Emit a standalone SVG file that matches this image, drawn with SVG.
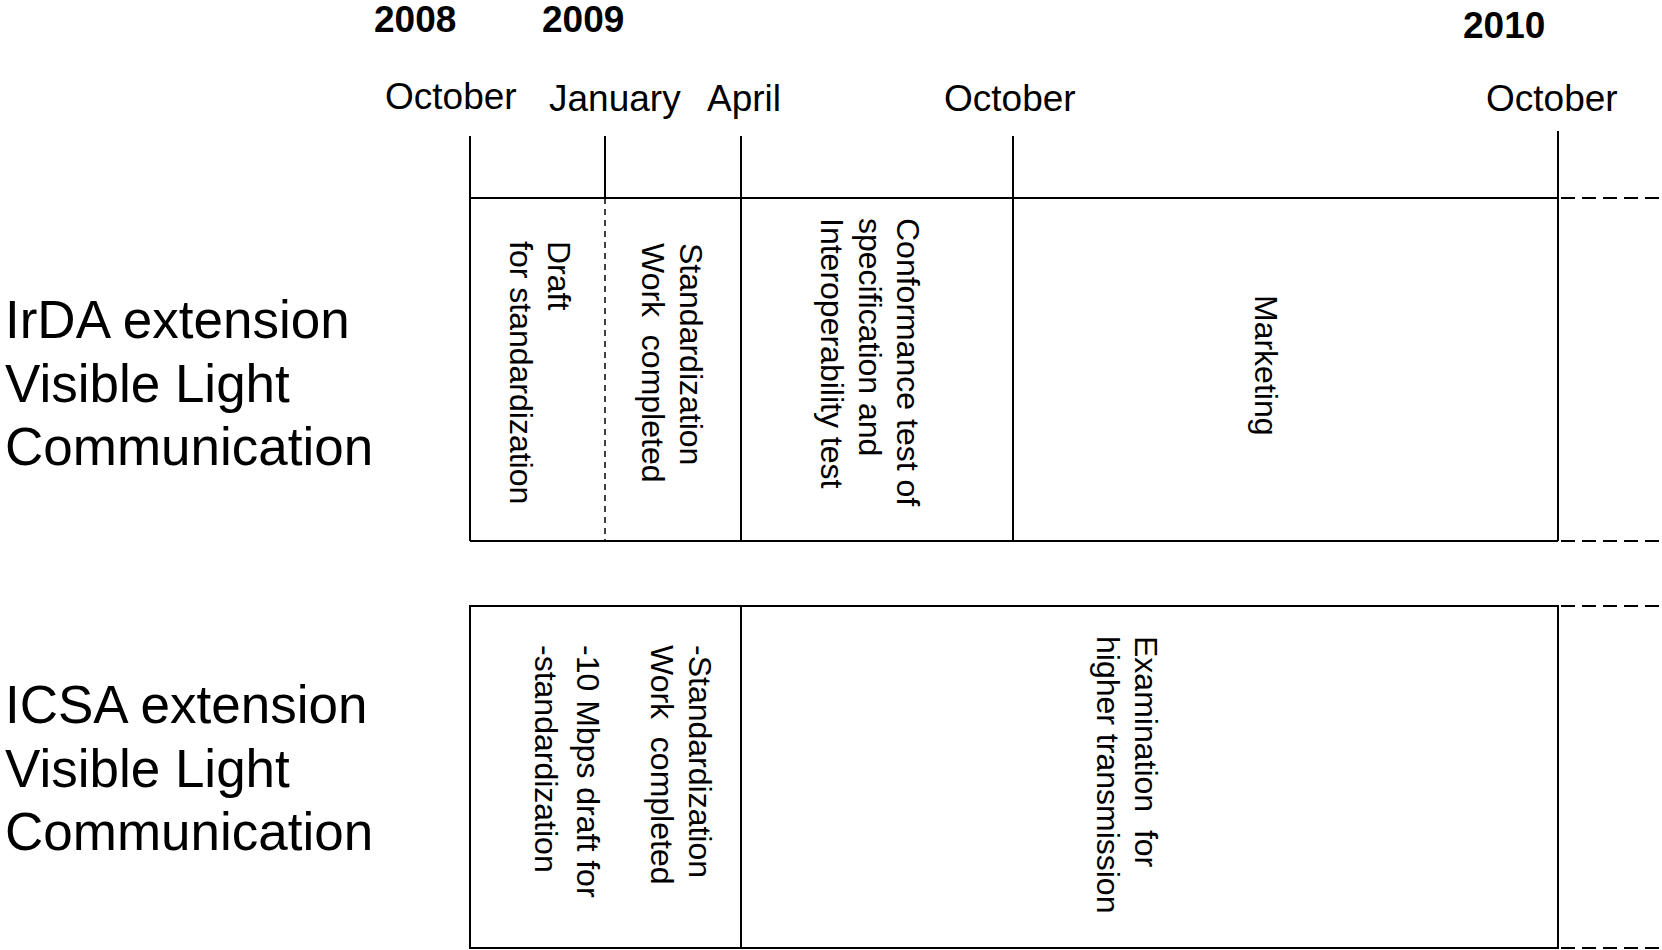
<svg xmlns="http://www.w3.org/2000/svg" width="1662" height="950" viewBox="0 0 1662 950">
<style>
.ln{stroke:#000;stroke-width:2;fill:none}
.dash{stroke:#000;stroke-width:2;fill:none;stroke-dasharray:14 7}
.vdash{stroke:#000;stroke-width:1.5;fill:none;stroke-dasharray:6 5}
.yr{font-family:"Liberation Sans",Arial,sans-serif;font-weight:bold;font-size:37px;fill:#000}
.mo{font-family:"Liberation Sans",Arial,sans-serif;font-size:37px;fill:#000}
.lbl{font-family:"Liberation Sans",Arial,sans-serif;font-size:53px;fill:#000}
.vt{font-family:"Liberation Sans",Arial,sans-serif;font-size:32px;fill:#000;white-space:pre}
</style>
<rect width="1662" height="950" fill="#fff"/>
<g id="years">
<text class="yr" x="374" y="32">2008</text>
<text class="yr" x="542" y="32">2009</text>
<text class="yr" x="1463" y="38">2010</text>
</g>
<g id="months">
<text class="mo" x="385" y="109">October</text>
<text class="mo" x="549" y="111">January</text>
<text class="mo" x="707" y="111">April</text>
<text class="mo" x="944" y="111">October</text>
<text class="mo" x="1486" y="111">October</text>
</g>
<g id="row-labels">
<text class="lbl" x="5" y="338">IrDA extension</text>
<text class="lbl" x="5" y="402">Visible Light</text>
<text class="lbl" x="5" y="465">Communication</text>
<text class="lbl" x="5" y="723">ICSA extension</text>
<text class="lbl" x="5" y="787">Visible Light</text>
<text class="lbl" x="5" y="850">Communication</text>
</g>
<g id="connectors">
<path class="ln" d="M470 136V541M605 136V198M741 136V541M1013 136V541M1558 131V541"/>
<path class="ln" d="M470 198H1558M470 541H1558"/>
<path class="vdash" d="M605 198V541"/>
<path class="ln" d="M470 606H1558V948H470ZM741 606V948"/>
<path class="dash" d="M1561 198H1662M1561 541H1662M1561 606H1662M1561 948H1662"/>
</g>
<g id="irda-draft">
<text class="vt" transform="translate(548,241) rotate(90)">Draft</text>
<text class="vt" transform="translate(510,241) rotate(90)">for standardization</text>
</g>
<g id="irda-standardization">
<text class="vt" transform="translate(680,243) rotate(90)">Standardization</text>
<text class="vt" transform="translate(642,243) rotate(90)">Work  completed</text>
</g>
<g id="irda-conformance">
<text class="vt" transform="translate(897,218) rotate(90)">Conformance test of</text>
<text class="vt" transform="translate(859,218) rotate(90)">specification and</text>
<text class="vt" transform="translate(821,218) rotate(90)">Interoperability test</text>
</g>
<g id="irda-marketing">
<text class="vt" transform="translate(1255,295) rotate(90)">Marketing</text>
</g>
<g id="icsa-standardization">
<text class="vt" transform="translate(689,645) rotate(90)">-Standardization</text>
<text class="vt" transform="translate(651,645) rotate(90)">Work  completed</text>
<text class="vt" transform="translate(577,645) rotate(90)">-10 Mbps draft for</text>
<text class="vt" transform="translate(535,645) rotate(90)">-standardization</text>
</g>
<g id="icsa-examination">
<text class="vt" transform="translate(1135,636) rotate(90)">Examination  for</text>
<text class="vt" transform="translate(1097,636) rotate(90)">higher transmission</text>
</g>
</svg>
